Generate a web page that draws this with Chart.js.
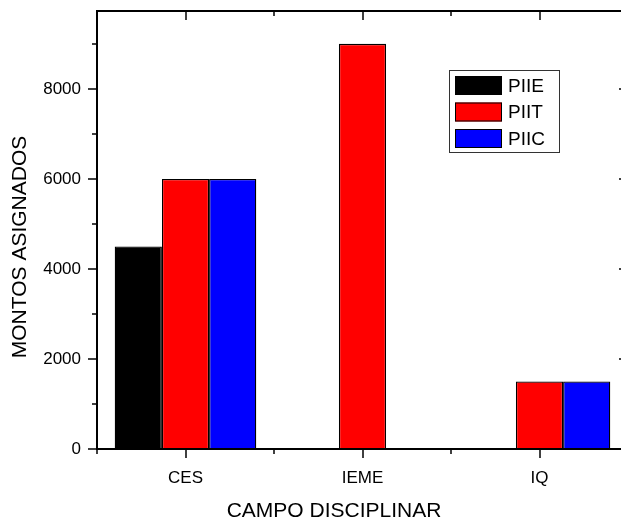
<!DOCTYPE html>
<html>
<head>
<meta charset="utf-8">
<script src="https://cdn.jsdelivr.net/npm/chart.js@4"></script>
<style>
  html, body { margin: 0; padding: 0; overflow: hidden; background: #fff; }
  canvas { display: block; }
</style>
</head>
<body>
<canvas id="bar-chart" width="640" height="524"></canvas>
<script>
// Data
const categories = ['CES', 'IEME', 'IQ'];
const piieValues = [4500, null, null];
const piitValues = [6000, 9000, 1500];
const piicValues = [6000, null, 1500];
const seriesNames = ['PIIE', 'PIIT', 'PIIC'];
const yTickLabels = [0, 2000, 4000, 6000, 8000];
const yMinorTicks = [1000, 3000, 5000, 7000, 9000];

const FONT = "'Liberation Sans', Arial, Helvetica, sans-serif";

// Origin-style frame: box around the plot with in/out ticks, axis titles and legend
const framePlugin = {
  id: 'frame',
  afterDraw(chart) {
    const ctx = chart.ctx;
    const a = chart.chartArea;
    const x = chart.scales.x;
    const y = chart.scales.y;
    ctx.save();
    ctx.strokeStyle = '#000';
    ctx.lineWidth = 2;
    ctx.strokeRect(a.left, a.top, a.right - a.left, a.bottom - a.top);

    ctx.lineWidth = 1.5;
    let tick = function (x1, y1, x2, y2) {
      ctx.beginPath();
      ctx.moveTo(x1, y1);
      ctx.lineTo(x2, y2);
      ctx.stroke();
    };
    // y ticks: out on the left, in on the right
    yTickLabels.forEach(function (v) {
      let py = Math.round(y.getPixelForValue(v));
      tick(a.left - 9, py, a.left, py);
      tick(a.right - 9, py, a.right, py);
    });
    yMinorTicks.forEach(function (v) {
      let py = Math.round(y.getPixelForValue(v));
      tick(a.left - 5, py, a.left, py);
      tick(a.right - 5, py, a.right, py);
    });
    // x ticks: majors at categories, minors between them
    categories.forEach(function (c, i) {
      let px = Math.round(x.getPixelForValue(i));
      tick(px, a.bottom, px, a.bottom + 9);
      tick(px, a.top, px, a.top + 9);
    });
    for (let i = 0; i <= categories.length; i++) {
      let px = Math.round(x.getPixelForValue(i - 0.5));
      tick(px, a.bottom, px, a.bottom + 5);
      tick(px, a.top, px, a.top + 5);
    }

    // axis titles
    ctx.fillStyle = '#000';
    ctx.font = '21px ' + FONT;
    ctx.textAlign = 'center';
    ctx.textBaseline = 'middle';
    ctx.fillText('CAMPO DISCIPLINAR', 334, 511);
    ctx.save();
    ctx.translate(20, 247);
    ctx.rotate(-Math.PI / 2);
    ctx.fillText('MONTOS ASIGNADOS', 0, 0);
    ctx.restore();

    // legend box
    ctx.lineWidth = 1;
    ctx.strokeStyle = '#333';
    ctx.strokeRect(449.5, 70.5, 110, 82);
    ctx.font = '19px ' + FONT;
    ctx.textAlign = 'left';
    chart.data.datasets.forEach(function (ds, i) {
      let top = 76 + i * 26.5;
      ctx.fillStyle = ds.backgroundColor;
      ctx.fillRect(455, top, 47, 19);
      ctx.strokeStyle = '#000';
      ctx.strokeRect(455.5, top + 0.5, 46, 18);
      ctx.fillStyle = '#000';
      ctx.fillText(ds.label, 508, top + 10.5);
    });
    ctx.restore();
  }
};

// keep the plot box where the reference has it
let noPadding = function (scale) {
  scale.paddingTop = 0;
  scale.paddingBottom = 0;
  scale.paddingLeft = 0;
  scale.paddingRight = 0;
};

let ctx = document.getElementById('bar-chart');
let myChart = new Chart(ctx, {
  type: 'bar',
  data: {
    labels: categories,
    datasets: [
      { label: seriesNames[0], data: piieValues, backgroundColor: '#000000' },
      { label: seriesNames[1], data: piitValues, backgroundColor: '#ff0000' },
      { label: seriesNames[2], data: piicValues, backgroundColor: '#0000ff' }
    ].map(function (d) {
      d.borderColor = '#000';
      d.borderWidth = 1.3;
      d.categoryPercentage = 0.8;
      d.barPercentage = 1.0;
      return d;
    })
  },
  options: {
    responsive: false,
    animation: false,
    devicePixelRatio: 1,
    layout: { padding: { left: 0, top: 11, right: 12, bottom: 0 } },
    plugins: {
      legend: { display: false },
      tooltip: { enabled: false }
    },
    scales: {
      x: {
        grid: { display: false },
        border: { display: false },
        ticks: {
          color: '#000',
          padding: 11,
          font: { family: FONT, size: 17 }
        },
        afterFit: function (scale) { scale.height = 75; noPadding(scale); }
      },
      y: {
        min: 0,
        max: 9730,
        grid: { display: false },
        border: { display: false },
        afterBuildTicks: function (scale) {
          scale.ticks = yTickLabels.map(function (v) { return { value: v }; });
        },
        ticks: {
          color: '#000',
          padding: 8,
          font: { family: FONT, size: 17 },
          // plain numbers, no thousands separator
          callback: function (value) { return String(value); }
        },
        afterFit: function (scale) { scale.width = 97; noPadding(scale); }
      }
    }
  },
  plugins: [framePlugin]
});
</script>
</body>
</html>
